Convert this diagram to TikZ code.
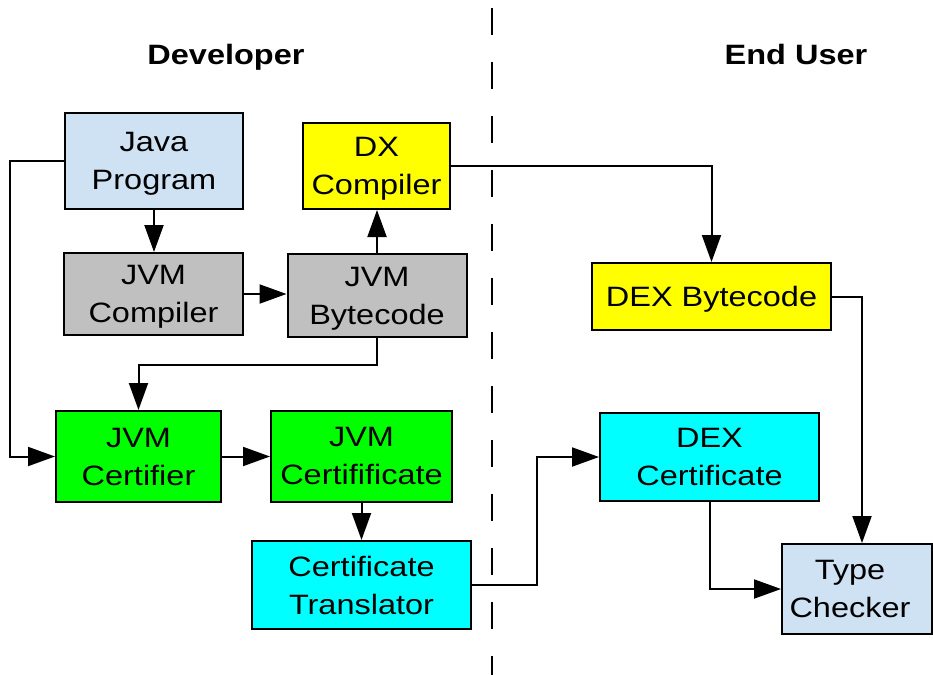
\documentclass[tikz,border=0pt]{standalone}
\usepackage{fontspec}
\setmainfont{Liberation Sans}[FakeStretch=1.16]
\usetikzlibrary{arrows.meta,calc}
\definecolor{lblue}{RGB}{207,226,243}
\definecolor{gbox}{RGB}{192,192,192}
\definecolor{ybox}{RGB}{255,255,0}
\definecolor{grbox}{RGB}{0,255,0}
\definecolor{cbox}{RGB}{0,255,255}
\begin{document}
\begin{tikzpicture}[x=1pt,y=-1pt,
  box/.style={draw=black,line width=2pt,inner sep=0pt,align=center,text depth=0pt,font=\fontsize{28}{38}\selectfont},
  conn/.style={line width=2pt,-{Triangle[length=27pt,width=19pt]}},
  title/.style={font=\fontsize{28}{34}\selectfont\bfseries,anchor=base,inner sep=0pt}]
\useasboundingbox (0,0) rectangle (933,675);
% separator
\coordinate (septop) at (492,8);
\coordinate (sepbot) at (492,675);
\draw[line width=2.5pt,dash pattern=on 27pt off 27pt] (septop) -- (sepbot);
% titles
\node[title] (dev) at (226,64) {Developer};
\node[title] (enduser) at (796,64) {End User};
% boxes
\node[box,fill=lblue,minimum width=178pt,minimum height=96pt] (java) at (154,161) {Java\\Program};
\node[box,fill=ybox,minimum width=147pt,minimum height=86pt] (dx) at (376.5,166) {DX\\Compiler};
\node[box,fill=gbox,minimum width=179pt,minimum height=82pt] (jvmc) at (153.5,294) {JVM\\Compiler};
\node[box,fill=gbox,minimum width=179pt,minimum height=83pt] (bc) at (377,295.5) {JVM\\Bytecode};
\node[box,fill=grbox,minimum width=165pt,minimum height=91pt] (cert) at (138.5,456.5) {JVM\\Certifier};
\node[box,fill=grbox,minimum width=181pt,minimum height=91pt] (certf) at (361.5,456) {JVM\\Certifificate};
\node[box,fill=cbox,minimum width=219pt,minimum height=88pt] (tr) at (361.5,585) {Certificate\\Translator};
\node[box,fill=ybox,minimum width=239pt,minimum height=67pt] (dexb) at (711.5,296.5) {DEX Bytecode};
\node[box,fill=cbox,minimum width=219pt,minimum height=88pt] (dexc) at (709.5,457) {DEX\\Certificate};
\node[box,fill=lblue,minimum width=150pt,minimum height=90pt] (tc) at (857,589) {\hspace*{-14pt}Type\\\hspace*{-14pt}Checker};
% connectors
\draw[conn] (java.west) -- ++(-54,0) |- (cert.west);
\draw[conn] (java.south) -- (java.south |- jvmc.north);
\draw[conn] (jvmc.east) -- (jvmc.east -| bc.west);
\draw[conn] (bc.north) -- (bc.north |- dx.south);
\draw[conn] (bc.south) -- ++(0,27) -| (cert.north);
\draw[conn] (cert.east) -- (cert.east -| certf.west);
\draw[conn] (certf.south) -- (tr.north);
\draw[conn] (tr.east) -- ++(65,0) |- (dexc.west);
\draw[conn] (dx.east) -| (dexb.north);
\draw[conn] (dexb.east) -| ([xshift=5pt]tc.north);
\draw[conn] (dexc.south) |- (tc.west);
\end{tikzpicture}
\end{document}
